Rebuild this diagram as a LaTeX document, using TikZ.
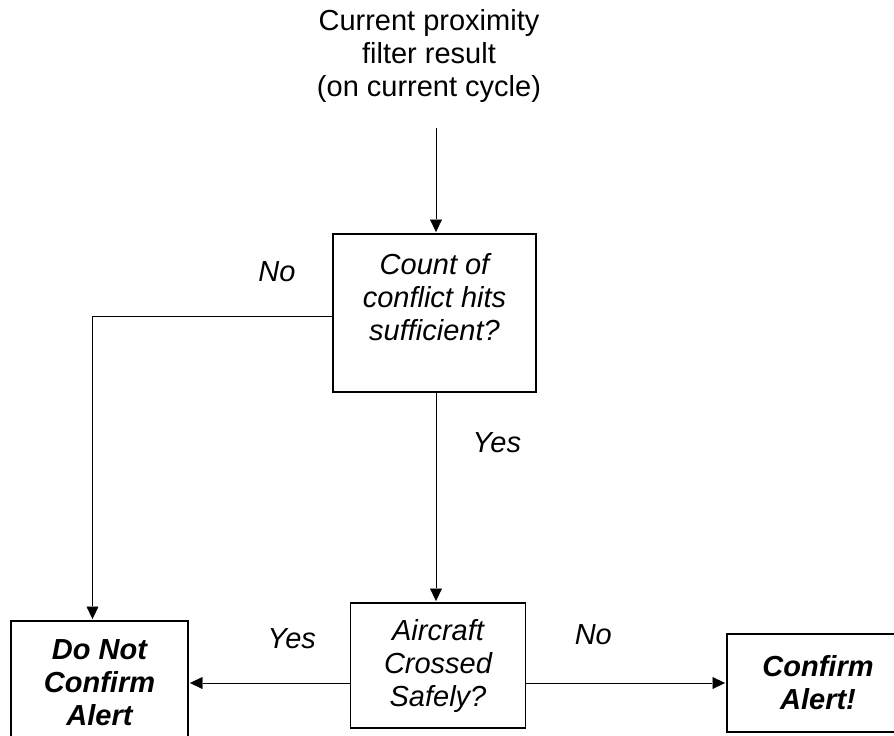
\documentclass[tikz,border=0pt]{standalone}
\usepackage{fontspec}
\setmainfont{Liberation Sans}
\usetikzlibrary{positioning, arrows.meta}

\newcommand{\flowfont}{\fontsize{29}{33}\selectfont}

\begin{document}
\begin{tikzpicture}[x=1pt, y=-1pt]
        \tikzset{
            ->, % every connector is directed
            >={Triangle[length=14pt, width=13pt]}, % filled triangle heads
            line width=1.3pt,
            test/.style={draw, rectangle, line width=1.8pt, align=center, inner sep=0pt, font=\flowfont\itshape}, % question boxes
            outcome/.style={draw, rectangle, line width=1.8pt, align=center, inner sep=0pt, font=\flowfont\bfseries\itshape}, % result boxes
            answer/.style={inner sep=0pt, font=\flowfont\itshape}, % yes / no labels
            }
        \useasboundingbox (0,0) rectangle (894,736);

        % nodes
        \node[test, minimum width=203pt, minimum height=158pt] (count_test) at (434.5,313) {Count of\\conflict hits\\sufficient?\\\mbox{}};
        \node[align=center, inner sep=0pt, font=\flowfont, node distance=257pt, above of=count_test, xshift=-5.5pt] (filter_result) {Current proximity\\filter result\\(on current cycle)};
        \node[test, minimum width=175pt, minimum height=125pt, node distance=352.5pt, below of=count_test, xshift=3.5pt] (crossed_test) {Aircraft\\Crossed\\Safely?};
        \node[outcome, minimum width=177pt, minimum height=124pt, node distance=338.5pt, left of=crossed_test, yshift=-17.5pt] (no_confirm) {Do Not\\Confirm\\Alert};
        \node[outcome, minimum width=182pt, minimum height=98pt, node distance=380pt, right of=crossed_test, yshift=-17.5pt] (confirm) {Confirm\\Alert!};

        % input feed
        \coordinate[node distance=72pt, below of=filter_result, xshift=7pt] (feed_in);
        \path (feed_in) edge (feed_in |- count_test.north);

        % count test paths
        \path (count_test.south -| feed_in) edge node[answer, pos=0.24, right=36pt] {Yes} (feed_in |- crossed_test.north);
        \draw ([yshift=-3pt]count_test.west) -| node[answer, pos=0.115, above=33.5pt] {No} ([xshift=-7pt]no_confirm.north);

        % crossed test paths
        \path (crossed_test.west |- no_confirm.east) edge node[answer, pos=0.36, above=34pt] {Yes} (no_confirm.east);
        \path (crossed_test.east |- confirm.west) edge node[answer, pos=0.335, above=37.5pt] {No} (confirm.west);
    \end{tikzpicture}
\end{document}
